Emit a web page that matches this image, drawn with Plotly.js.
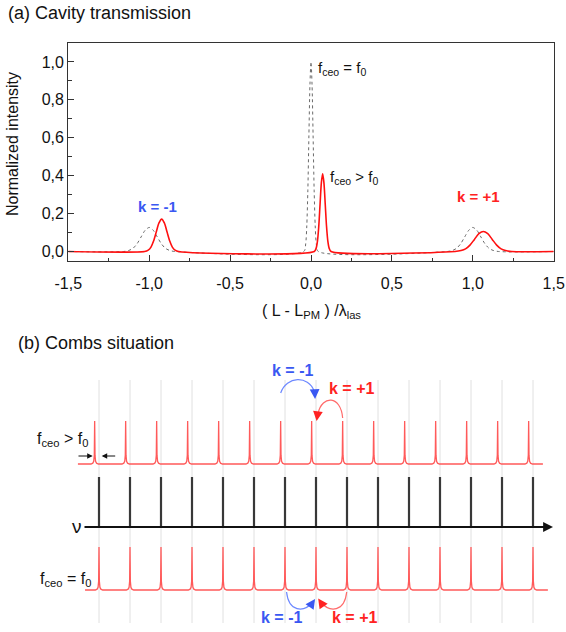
<!DOCTYPE html>
<html><head><meta charset="utf-8">
<script src="https://cdn.plot.ly/plotly-3.0.1.min.js"></script>
<style>html,body{margin:0;padding:0;background:#fff;}#chart{width:566px;height:632px;}</style>
</head><body><div id="chart"></div>
<script>
// ---------- (a) Cavity transmission : data ----------
const xTickVals = [-1.5, -1.0, -0.5, 0.0, 0.5, 1.0, 1.5];
const xTickText = ['-1,5', '-1,0', '-0,5', '0,0', '0,5', '1,0', '1,5'];
const yTickVals = [0.0, 0.2, 0.4, 0.6, 0.8, 1.0];
const yTickText = ['0,0', '0,2', '0,4', '0,6', '0,8', '1,0'];

// f_ceo = f_0 (grey dotted)
const refX = [-1.5, -1.16, -1.125, -1.1, -1.075, -1.05, -1.025, -1.0, -0.975, -0.95, -0.925, -0.9, -0.875, -0.84,
  -0.045, -0.033, -0.026, -0.0195, -0.013, -0.0065, 0.0, 0.0065, 0.013, 0.0195, 0.026, 0.033, 0.045,
  0.84, 0.875, 0.9, 0.925, 0.95, 0.975, 1.0, 1.025, 1.05, 1.075, 1.1, 1.125, 1.16, 1.5];
const refY = [0, 0, 0.006, 0.017, 0.041, 0.077, 0.112, 0.127, 0.112, 0.077, 0.041, 0.017, 0.006, 0,
  0, 0.04, 0.135, 0.32, 0.61, 0.88, 1.0, 0.88, 0.61, 0.32, 0.135, 0.04, 0,
  0, 0.006, 0.017, 0.041, 0.077, 0.112, 0.127, 0.112, 0.077, 0.041, 0.017, 0.006, 0, 0];

// f_ceo > f_0 (red)
const shiftX = [-1.5, -1.028, -1.006, -0.989, -0.973, -0.956, -0.9395, -0.923, -0.9065, -0.89, -0.873, -0.857, -0.84, -0.818,
  0.02, 0.032, 0.040, 0.048, 0.056, 0.064, 0.072, 0.080, 0.088, 0.096, 0.104, 0.112, 0.124,
  0.89, 0.9275, 0.955, 0.9825, 1.01, 1.0375, 1.065, 1.0925, 1.12, 1.1475, 1.175, 1.2025, 1.24, 1.5];
const shiftY = [0, 0, 0.007, 0.023, 0.055, 0.104, 0.151, 0.171, 0.151, 0.104, 0.055, 0.023, 0.007, 0,
  0, 0.018, 0.055, 0.133, 0.249, 0.362, 0.41, 0.362, 0.249, 0.133, 0.055, 0.018, 0,
  0, 0.005, 0.014, 0.034, 0.064, 0.094, 0.106, 0.094, 0.064, 0.034, 0.014, 0.005, 0, 0];

// ---------- (b) Combs situation : schematic data ----------
const combModes = [0, 1, 2, 3, 4, 5, 6, 7, 8, 9, 10, 11, 12, 13, 14];
const spikeOffset = [-0.12, -0.06, -0.03, -0.012, 0, 0.012, 0.03, 0.06, 0.12];
const spikeLevel  = [0, 0.02, 0.06, 0.2, 1, 0.2, 0.06, 0.02, 0];
const shiftedCombOffset = -0.14;   // offset of the f_ceo > f_0 comb, in mode spacings

// ---------- layout constants ----------
const W = 566, H = 632;
const FONT = 'Liberation Sans, Arial, Helvetica, sans-serif';
const BLUE = '#3a58f2', RED = '#ff2222';
const BLUE_ARC = '#6d88ff', RED_ARC = '#ff6a6a';
const COMB_RED = '#ff5a5a';
const px = v => v / W, py = v => 1 - v / H;

// schematic rows (y2 units)
const topRow = {base: 168, h: 43, from: -0.68, to: 14.32, shift: shiftedCombOffset};
const botRow = {base: 42, h: 43, from: -0.45, to: 14.48, shift: 0};
const axisY = 105, barH = 50, gridLo = 9, gridHi = 252;

function combTrace(row) {
  const x = [row.from], y = [row.base];
  combModes.forEach(n => {
    spikeOffset.forEach((d, i) => { x.push(n + row.shift + d); y.push(row.base + row.h * spikeLevel[i]); });
  });
  x.push(row.to); y.push(row.base);
  return {x, y, xaxis: 'x2', yaxis: 'y2', mode: 'lines', hoverinfo: 'skip',
    line: {color: COMB_RED, width: 1.3}, showlegend: false};
}
function segTrace(ys0, ys1, color, width) {
  const x = [], y = [];
  combModes.forEach(n => { x.push(n, n, null); y.push(ys0, ys1, null); });
  return {x, y, xaxis: 'x2', yaxis: 'y2', mode: 'lines', hoverinfo: 'skip',
    line: {color, width}, showlegend: false};
}

const traces = [
  {x: refX, y: refY, mode: 'lines', line: {color: '#6a6a6a', width: 1, dash: 'dot', shape: 'spline', smoothing: 0.8}, showlegend: false},
  {x: shiftX, y: shiftY, mode: 'lines', line: {color: '#ff1010', width: 1.6, shape: 'spline', smoothing: 0.8}, showlegend: false},
  segTrace(gridLo, gridHi, '#dcdcdc', 0.9),
  combTrace(topRow),
  combTrace(botRow),
  segTrace(axisY, axisY + barH, '#383838', 2.2)
];

const arcs = [
  {path: 'M 5.86,239 C 6.05,256 6.75,257 6.94,241', color: BLUE_ARC},
  {path: 'M 7.86,214 C 7.8,237 7.2,237 7.07,219', color: RED_ARC},
  {path: 'M 6.05,40 C 6.12,20 6.6,19 6.9,30', color: BLUE_ARC},
  {path: 'M 7.99,40 C 7.92,20 7.45,19 7.15,30', color: RED_ARC}
];
const shapes = arcs.map(a => ({type: 'path', xref: 'x2', yref: 'y2', path: a.path,
  line: {color: a.color, width: 1.2}}));

function head(x, y, ax, ay, color, w, s) {
  return {x, y, ax, ay, xref: 'x2', yref: 'y2', axref: 'x2', ayref: 'y2', text: '',
    showarrow: true, arrowhead: 2, arrowsize: s, arrowwidth: w, arrowcolor: color, standoff: 0};
}
function txt(text, x, y, xref, yref, size, color, opts) {
  return Object.assign({text, x, y, xref, yref, showarrow: false,
    font: {family: FONT, size, color}}, opts || {});
}

const annotations = [
  txt('(a) Cavity transmission', px(6), py(13), 'paper', 'paper', 18, '#111', {xanchor: 'left', yanchor: 'middle'}),
  txt('(b) Combs situation', px(16), py(343), 'paper', 'paper', 18, '#111', {xanchor: 'left', yanchor: 'middle'}),
  txt('Normalized intensity', px(12), py(144), 'paper', 'paper', 16, '#111', {textangle: -90, xanchor: 'center', yanchor: 'middle'}),
  txt('( L - L<sub>PM</sub> ) /λ<sub>las</sub>', px(311), py(311), 'paper', 'paper', 16, '#111', {xanchor: 'center', yanchor: 'middle'}),
  txt('<b>k = -1</b>', -0.949, 0.236, 'x', 'y', 15, BLUE, {xanchor: 'center', yanchor: 'middle'}),
  txt('<b>k = +1</b>', 1.034, 0.291, 'x', 'y', 15, RED, {xanchor: 'center', yanchor: 'middle'}),
  txt('f<sub>ceo</sub> = f<sub>0</sub>', 0.031, 0.965, 'x', 'y', 15, '#111', {xanchor: 'left', yanchor: 'middle'}),
  txt('f<sub>ceo</sub> &gt; f<sub>0</sub>', 0.105, 0.39, 'x', 'y', 15, '#111', {xanchor: 'left', yanchor: 'middle'}),
  // bottom panel
  txt('f<sub>ceo</sub> &gt; f<sub>0</sub>', -2.065, 193, 'x2', 'y2', 16, '#111', {xanchor: 'left', yanchor: 'middle'}),
  txt('f<sub>ceo</sub> = f<sub>0</sub>', -1.968, 53, 'x2', 'y2', 16, '#111', {xanchor: 'left', yanchor: 'middle'}),
  txt('ν', -0.72, 106, 'x2', 'y2', 19, '#111', {xanchor: 'center', yanchor: 'middle'}),
  txt('<b>k = -1</b>', 6.226, 262, 'x2', 'y2', 16, BLUE, {xanchor: 'center', yanchor: 'middle'}),
  txt('<b>k = +1</b>', 8.145, 244, 'x2', 'y2', 16, RED, {xanchor: 'center', yanchor: 'middle'}),
  txt('<b>k = -1</b>', 5.894, 15, 'x2', 'y2', 16, BLUE, {xanchor: 'center', yanchor: 'middle'}),
  txt('<b>k = +1</b>', 8.226, 15, 'x2', 'y2', 16, RED, {xanchor: 'center', yanchor: 'middle'}),
  head(14.645, axisY, -0.516, axisY, '#111', 1.8, 1.1),
  head(-0.203, 176, -0.71, 176, '#111', 1, 1.1),
  head(0.087, 176, 0.571, 176, '#111', 1, 1.1),
  head(6.97, 233, 6.955, 243, BLUE, 1.3, 1.5),
  head(7.02, 211, 7.06, 220, RED, 1.3, 1.5),
  head(6.97, 33, 6.86, 28, BLUE, 1.3, 1.5),
  head(7.07, 33.5, 7.19, 28, RED, 1.3, 1.5)
];

const axisFont = {family: FONT, size: 16, color: '#111'};
const layout = {
  width: W, height: H,
  margin: {l: 0, r: 0, t: 0, b: 0},
  paper_bgcolor: '#fff', plot_bgcolor: 'rgba(0,0,0,0)',
  showlegend: false,
  font: {family: FONT},
  xaxis: {domain: [px(68.3), px(553.7)], anchor: 'y', range: [-1.5, 1.5],
    tickmode: 'array', tickvals: xTickVals, ticktext: xTickText, tickfont: axisFont,
    ticks: 'inside', ticklen: 6, tickwidth: 1, tickcolor: '#333', ticklabelstandoff: 8,
    minor: {ticks: 'inside', tick0: -1.5, dtick: 0.25, ticklen: 3.5, tickcolor: '#333', showgrid: false},
    showline: true, linecolor: '#333', linewidth: 1.2, mirror: true, showgrid: false, zeroline: false},
  yaxis: {domain: [py(261), py(43)], anchor: 'x', range: [-0.05, 1.1],
    tickmode: 'array', tickvals: yTickVals, ticktext: yTickText, tickfont: axisFont,
    ticks: 'inside', ticklen: 6, tickwidth: 1, tickcolor: '#333',
    minor: {ticks: 'inside', tick0: 0, dtick: 0.1, ticklen: 3.5, tickcolor: '#333', showgrid: false},
    showline: true, linecolor: '#333', linewidth: 1.2, mirror: true, showgrid: false, zeroline: false},
  xaxis2: {domain: [0, 1], anchor: 'y2', range: [-99 / 31, 467 / 31], visible: false, fixedrange: true},
  yaxis2: {domain: [0, 1], anchor: 'x2', range: [0, H], visible: false, fixedrange: true},
  shapes, annotations
};

Plotly.newPlot('chart', traces, layout, {displayModeBar: false, staticPlot: true});
</script></body></html>
